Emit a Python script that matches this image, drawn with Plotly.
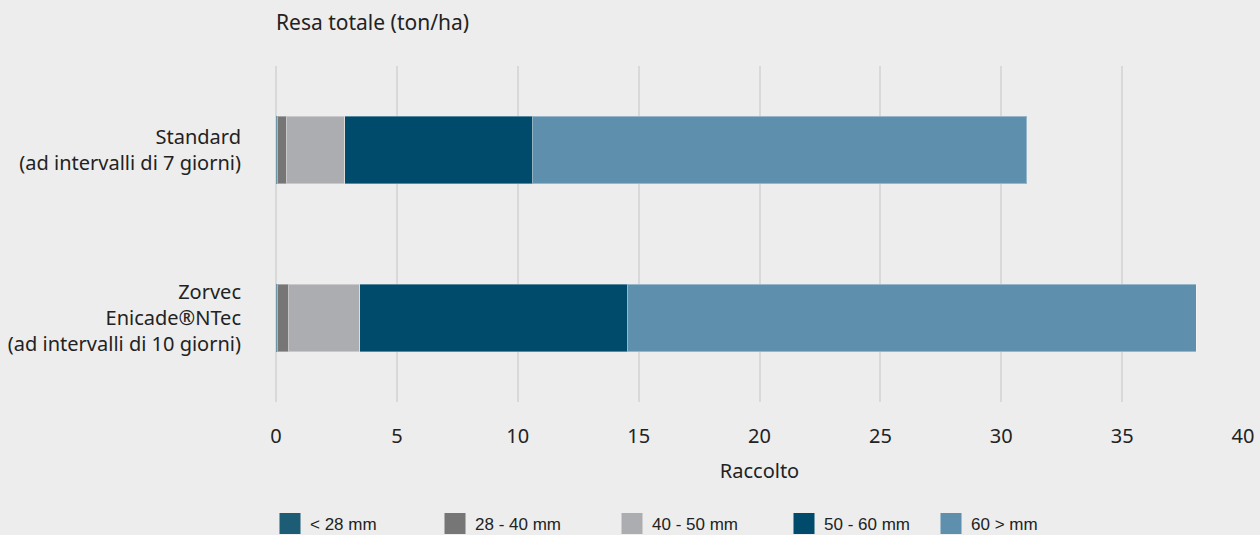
import plotly.graph_objects as go

categories = ["Standard<br>(ad intervalli di 7 giorni)",
              "Zorvec<br>Enicade®NTec<br>(ad intervalli di 10 giorni)"]
series_names = ["< 28 mm", "28 - 40 mm", "40 - 50 mm", "50 - 60 mm", "60 > mm"]
s_lt28 = [0.08, 0.08]
s_28_40 = [0.35, 0.44]
s_40_50 = [2.41, 2.94]
s_50_60 = [7.77, 11.07]
s_gt60 = [20.45, 23.53]
series_values = [s_lt28, s_28_40, s_40_50, s_50_60, s_gt60]
colors = ["#1c5d75", "#767676", "#acadb0", "#004b6b", "#5e8fad"]
x_ticks = [0, 5, 10, 15, 20, 25, 30, 35, 40]

fig = go.Figure()
for name, vals, c in zip(series_names, series_values, colors):
    fig.add_trace(go.Bar(
        y=categories, x=vals, name=name, orientation="h",
        marker=dict(color=c, line=dict(color="rgba(255,255,255,0.35)", width=1)),
        width=0.4, showlegend=False, hoverinfo="x+name"))

# legend entries (one legend each, for positioning)
legend_px = [270, 435, 612, 784, 931]
plot_left, plot_w = 276, 967
for i, (name, c) in enumerate(zip(series_names, colors)):
    lg = "legend" if i == 0 else f"legend{i+1}"
    fig.add_trace(go.Scatter(
        x=[None], y=[None], mode="markers", name=name,
        marker=dict(symbol="square", size=16, color=c, line=dict(color=c, width=5)),
        legend=lg, showlegend=True))

layout_legends = {}
for i in range(5):
    lg = "legend" if i == 0 else f"legend{i+1}"
    layout_legends[lg] = dict(
        x=(legend_px[i] - plot_left) / plot_w, xanchor="left", xref="paper",
        y=-0.363, yanchor="middle", orientation="h",
        font=dict(family="Liberation Sans", size=17, color="#222222"),
        bgcolor="rgba(0,0,0,0)", itemwidth=30)

fig.update_layout(
    width=1260, height=535,
    paper_bgcolor="#ededed", plot_bgcolor="#ededed",
    barmode="stack",
    margin=dict(l=plot_left, r=1260 - plot_left - plot_w, t=66, b=133, autoexpand=False),
    font=dict(family="Noto Sans", size=20, color="#222222"),
    title=dict(text="Resa totale (ton/ha)", x=0, xref="paper", xanchor="left",
               y=0.958, yanchor="middle", yref="container",
               font=dict(family="Noto Sans", size=21, color="#222222")),
    xaxis=dict(range=[0, 40], tickvals=x_ticks, showgrid=True, automargin=False,
               gridcolor="#d9d9d9", gridwidth=2, zeroline=True,
               zerolinecolor="#d9d9d9", zerolinewidth=2,
               ticks="outside", ticklen=16, tickcolor="rgba(0,0,0,0)",
               tickfont=dict(size=20, color="#222222"),
               title=dict(text="Raccolto", font=dict(size=20, color="#222222"), standoff=15),
               fixedrange=True),
    yaxis=dict(autorange="reversed", showgrid=False, zeroline=False, automargin=False,
               ticks="outside", ticklen=30, tickcolor="rgba(0,0,0,0)",
               tickfont=dict(size=20, color="#222222"), fixedrange=True),
    **layout_legends,
)

fig.write_html("out.html", config={"displayModeBar": False},
               post_script="document.body.style.margin='0';document.body.style.background='#ededed';")
